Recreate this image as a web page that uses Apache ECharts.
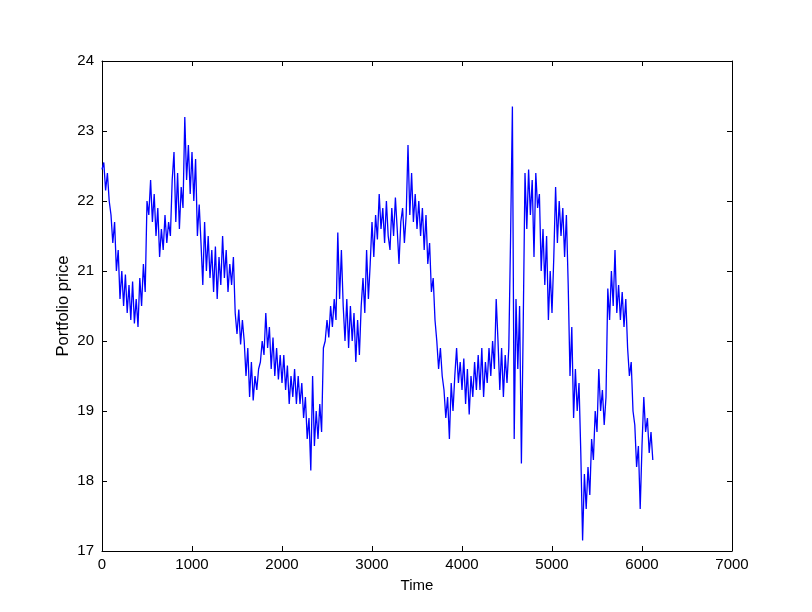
<!DOCTYPE html>
<html>
<head>
<meta charset="utf-8">
<script src="https://cdn.jsdelivr.net/npm/echarts@6/dist/echarts.min.js"></script>
<style>
html,body{margin:0;padding:0;background:#fff;}
#chart{width:812px;height:612px;}
</style>
</head>
<body>
<div id="chart"></div>
<script>
const timeStart = 0;
const timeStep = 20;
const priceValues = [
22.45,22.55,22.15,22.4,22.0,21.8,21.4,21.7,21.0,21.3,
20.6,21.0,20.5,20.95,20.4,20.8,20.3,20.85,20.25,20.6,
20.2,20.9,20.5,21.1,20.7,22.0,21.8,22.3,21.7,22.1,
21.5,21.9,21.2,21.6,21.3,21.8,21.4,21.7,21.5,22.3,
22.7,21.7,22.4,21.6,22.2,21.9,23.2,22.3,22.8,22.1,
22.7,22.0,22.6,21.5,21.95,21.4,20.8,21.7,21.0,21.5,
20.9,21.3,20.7,21.35,20.6,21.2,20.8,21.5,20.9,21.3,
20.7,21.1,20.8,21.2,20.4,20.1,20.45,19.95,20.3,20.0,
19.5,19.9,19.2,19.7,19.15,19.5,19.3,19.6,19.7,20.0,
19.8,20.4,19.9,20.2,19.6,20.05,19.5,19.9,19.45,19.8,
19.4,19.8,19.3,19.65,19.1,19.5,19.2,19.6,19.1,19.5,
19.1,19.4,18.9,19.2,18.6,18.9,18.15,19.5,18.5,19.0,
18.6,19.1,18.7,19.9,20.0,20.3,20.05,20.5,20.2,20.6,
20.3,21.55,20.6,21.3,20.5,20.0,20.6,19.9,20.5,20.0,
20.4,19.7,20.3,19.8,20.5,20.9,20.4,21.3,20.6,21.1,
21.7,21.2,21.8,21.45,22.1,21.6,21.9,21.4,22.0,21.5,
21.3,21.9,21.5,22.05,21.6,21.1,21.7,21.9,21.4,21.8,
22.8,21.8,22.4,21.7,22.1,21.6,22.0,21.5,21.9,21.3,
21.8,21.1,21.4,20.7,20.9,20.3,20.0,19.6,19.9,19.5,
19.3,18.9,19.2,18.6,19.4,19.0,19.5,19.9,19.4,19.7,
19.3,19.75,19.1,19.6,18.95,19.5,19.2,19.7,19.3,19.8,
19.3,19.9,19.2,19.7,19.4,19.9,19.5,20.0,19.6,20.6,
20.0,19.3,19.9,19.2,19.8,19.4,19.9,21.5,23.35,18.6,
20.6,19.6,20.5,18.25,20.2,22.4,21.6,22.45,21.8,22.3,
21.2,22.4,21.9,22.1,21.0,21.6,20.8,21.5,20.3,21.0,
20.4,21.2,22.2,21.4,22.0,21.5,21.9,21.2,21.8,20.8,
19.5,20.2,18.9,19.6,19.0,19.4,18.4,17.15,18.1,17.6,
18.2,17.8,18.6,18.3,19.0,18.7,19.6,19.0,19.3,18.8,
19.2,20.75,20.3,21.0,20.5,21.3,20.4,20.8,20.3,20.7,
20.2,20.6,19.9,19.5,19.7,19.0,18.8,18.2,18.5,17.6,
18.5,19.2,18.7,18.9,18.4,18.7,18.3
];
const xTicks = {min: 0, max: 7000, interval: 1000};
const yTicks = {min: 17, max: 24, interval: 1};
const xLabel = 'Time';
const yLabel = 'Portfolio price';

const seriesData = priceValues.map((v, i) => [timeStart + i * timeStep, v]);

const font = 'Liberation Sans, Arial, sans-serif';
const axisLineStyle = {color: '#000', width: 1};
const plain = v => String(v);
const chart = echarts.init(document.getElementById('chart'), null, {renderer: 'canvas'});
chart.setOption({
  animation: false,
  backgroundColor: '#fff',
  grid: {left: 102, right: 80, top: 61, bottom: 61, show: false},
  xAxis: [{
    type: 'value', position: 'bottom',
    min: xTicks.min, max: xTicks.max, interval: xTicks.interval,
    name: xLabel, nameLocation: 'middle', nameGap: 27,
    nameTextStyle: {color: '#000', fontSize: 15, fontFamily: font},
    axisLine: {show: true, onZero: false, lineStyle: axisLineStyle},
    axisTick: {show: true, inside: true, length: 5, lineStyle: axisLineStyle},
    axisLabel: {color: '#000', fontSize: 15, fontFamily: font, margin: 6, formatter: plain},
    splitLine: {show: false}
  }, {
    type: 'value', position: 'top',
    min: xTicks.min, max: xTicks.max, interval: xTicks.interval,
    axisLine: {show: true, onZero: false, lineStyle: axisLineStyle},
    axisTick: {show: true, inside: true, length: 5, lineStyle: axisLineStyle},
    axisLabel: {show: false},
    splitLine: {show: false}
  }],
  yAxis: [{
    type: 'value', position: 'left',
    min: yTicks.min, max: yTicks.max, interval: yTicks.interval,
    name: yLabel, nameLocation: 'middle', nameGap: 30, nameRotate: 90,
    nameMoveOverlap: false,
    nameTextStyle: {color: '#000', fontSize: 16.5, fontFamily: font},
    axisLine: {show: true, onZero: false, lineStyle: axisLineStyle},
    axisTick: {show: true, inside: true, length: 5, lineStyle: axisLineStyle},
    axisLabel: {color: '#000', fontSize: 15, fontFamily: font, margin: 8, formatter: plain},
    splitLine: {show: false}
  }, {
    type: 'value', position: 'right',
    min: yTicks.min, max: yTicks.max, interval: yTicks.interval,
    axisLine: {show: true, onZero: false, lineStyle: axisLineStyle},
    axisTick: {show: true, inside: true, length: 5, lineStyle: axisLineStyle},
    axisLabel: {show: false},
    splitLine: {show: false}
  }],
  series: [{
    type: 'line',
    xAxisIndex: 0, yAxisIndex: 0,
    data: seriesData,
    showSymbol: false,
    symbol: 'none',
    lineStyle: {color: '#0000ff', width: 1.3},
    silent: true
  }]
});
</script>
</body>
</html>
